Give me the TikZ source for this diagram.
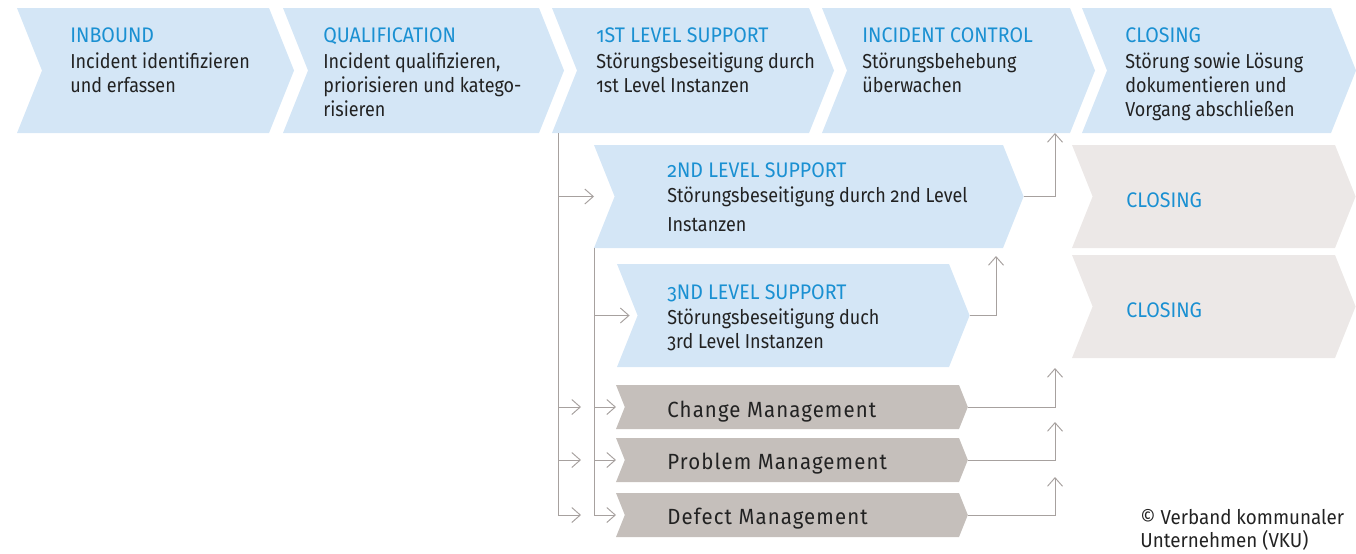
\documentclass[tikz,border=0pt]{standalone}
\usepackage{fontspec}
\setmainfont{Fira Sans}[Numbers=OldStyle, FakeStretch=0.89]
\newfontfamily\headfont{Fira Sans}[Numbers=OldStyle, FakeStretch=0.93]
\newfontfamily\mgmtfont{Fira Sans}[Numbers=OldStyle, FakeStretch=0.93, LetterSpace=5]
\usetikzlibrary{arrows.meta}

\definecolor{chevblue}{HTML}{D4E6F6}
\definecolor{headblue}{HTML}{1A90D2}
\definecolor{closegray}{HTML}{ECE8E7}
\definecolor{mgmtgray}{HTML}{C5BFBB}
\definecolor{linkgray}{HTML}{A7A19F}
\definecolor{textdark}{HTML}{222222}

\newcommand{\lines}[1]{\begin{tabular}[t]{@{}l@{}}#1\end{tabular}}

\tikzset{
	head/.style={anchor=base west, inner sep=0pt, text=headblue, font=\headfont\fontsize{12}{13}\selectfont},
	body/.style={anchor=base west, inner sep=0pt, text=textdark, font=\fontsize{11.5}{13.66}\selectfont},
	mgmt/.style={anchor=base west, inner sep=0pt, text=textdark, font=\mgmtfont\fontsize{12.5}{14}\selectfont},
	link/.style={draw=linkgray, line width=0.55pt},
	flow/.style={link, -{Straight Barb[length=1.7mm, width=3mm]}},
}

\begin{document}
\begin{tikzpicture}[x=0.2mm, y=-0.2mm]
	\useasboundingbox (0,0) rectangle (1356,553);
	
	% chevron: name, left x, top y, width, height, fill
	\def\chevron#1#2#3#4#5#6{%
		\fill[#6] (#2,#3) -- ++(#4,0) -- ++({0.2*#5},{0.5*#5}) -- ++({-0.2*#5},{0.5*#5})
			-- ++(-#4,0) -- ++({0.2*#5},{-0.5*#5}) -- cycle;
		\coordinate (#1-sw) at (#2,{#3+#5});
		\coordinate (#1-w) at (#2,{#3+0.5*#5});
		\coordinate (#1-notch) at ({#2+0.2*#5},{#3+0.5*#5});
		\coordinate (#1-tip) at ({#2+#4+0.2*#5},{#3+0.5*#5});
	}
	
	%Top row
	\chevron{inb}{17}{8}{252}{125}{chevblue}
	\chevron{qual}{283}{8}{256}{125}{chevblue}
	\chevron{sup1}{552}{8}{257}{125}{chevblue}
	\chevron{ctrl}{822}{8}{248}{125}{chevblue}
	\chevron{clo}{1082}{8}{249}{125}{chevblue}
	
	\node[head] (inbH) at (70,42) {INBOUND};
	\node[body] (inbB) at (70,68) {\lines{Incident identifizieren\\und erfassen}};
	\node[head] (qualH) at (323,42) {QUALIFICATION};
	\node[body] (qualB) at (323,68) {\lines{Incident qualifizieren,\\priorisieren und katego-\\risieren}};
	\node[head] (sup1H) at (596,42) {1ST LEVEL SUPPORT};
	\node[body] (sup1B) at (596,68) {\lines{Störungsbeseitigung durch\\1st Level Instanzen}};
	\node[head] (ctrlH) at (862,42) {INCIDENT CONTROL};
	\node[body] (ctrlB) at (862,68) {\lines{Störungsbehebung\\überwachen}};
	\node[head] (cloH) at (1125,42) {CLOSING};
	\node[body] (cloB) at (1125,68) {\lines{Störung sowie Lösung\\dokumentieren und\\Vorgang abschließen}};
	
	%2nd and 3rd level
	\chevron{sup2}{594}{145}{409}{103}{chevblue}
	\chevron{sup3}{617}{264}{332}{103}{chevblue}
	\node[head] (sup2H) at (667,177) {2ND LEVEL SUPPORT};
	\node[body] (sup2B) at (667,202) {\lines{Störungsbeseitigung durch 2nd Level\\[3.4pt]Instanzen}};
	\node[head] (sup3H) at (667,299) {3ND LEVEL SUPPORT};
	\node[body] (sup3B) at (667,324) {\lines{Störungsbeseitigung duch\\3rd Level Instanzen}};
	
	%Closing (grey)
	\chevron{cloA}{1072}{145}{263}{103}{closegray}
	\chevron{cloB}{1072}{255}{263}{103}{closegray}
	\node[head] (cloAH) at (1126,207) {CLOSING};
	\node[head] (cloBH) at (1126,317) {CLOSING};
	
	%Management
	\chevron{chg}{616}{385}{343}{44}{mgmtgray}
	\chevron{prb}{616}{438}{343}{44}{mgmtgray}
	\chevron{dfc}{616}{493}{343}{44}{mgmtgray}
	\node[mgmt] (chgT) at (667,417) {Change Management};
	\node[mgmt] (prbT) at (667,469) {Problem Management};
	\node[mgmt] (dfcT) at (667,524) {Defect Management};
	
	%Connectors
	\coordinate (trunkA) at (558,133);
	\draw[link] (trunkA) -- (trunkA |- dfc-w);
	\draw[link] (sup2-sw) -- (sup2-sw |- dfc-w);
	\draw[flow] (trunkA |- sup2-w) -- (sup2-w);
	\draw[flow, shorten >=8*0.2mm] (sup2-sw |- sup3-w) -- (sup3-notch);
	\foreach \m in {chg, prb, dfc} {
		\draw[flow, shorten >=13*0.2mm] (trunkA |- \m-w) -- (sup2-sw |- \m-w);
		\draw[flow] (sup2-sw |- \m-w) -- (\m-w);
	}
	
	\coordinate (backA) at (1055,133);
	\coordinate (backB) at (996,256);
	\coordinate (backC) at (1055,368);
	\coordinate (backD) at (1055,422);
	\coordinate (backE) at (1055,477);
	\draw[flow] (sup2-tip) -| (backA);
	\draw[flow] (sup3-tip) -| (backB);
	\draw[flow] (chg-tip) -| (backC);
	\draw[flow] (prb-tip) -| (backD);
	\draw[flow] (dfc-tip) -| (backE);
	
	\node[body, font=\headfont\fontsize{11.5}{12.5}\selectfont] (vku) at (1140,524) {\lines{\textcopyright{} Verband kommunaler\\Unternehmen (VKU)}};
	
\end{tikzpicture}
\end{document}
